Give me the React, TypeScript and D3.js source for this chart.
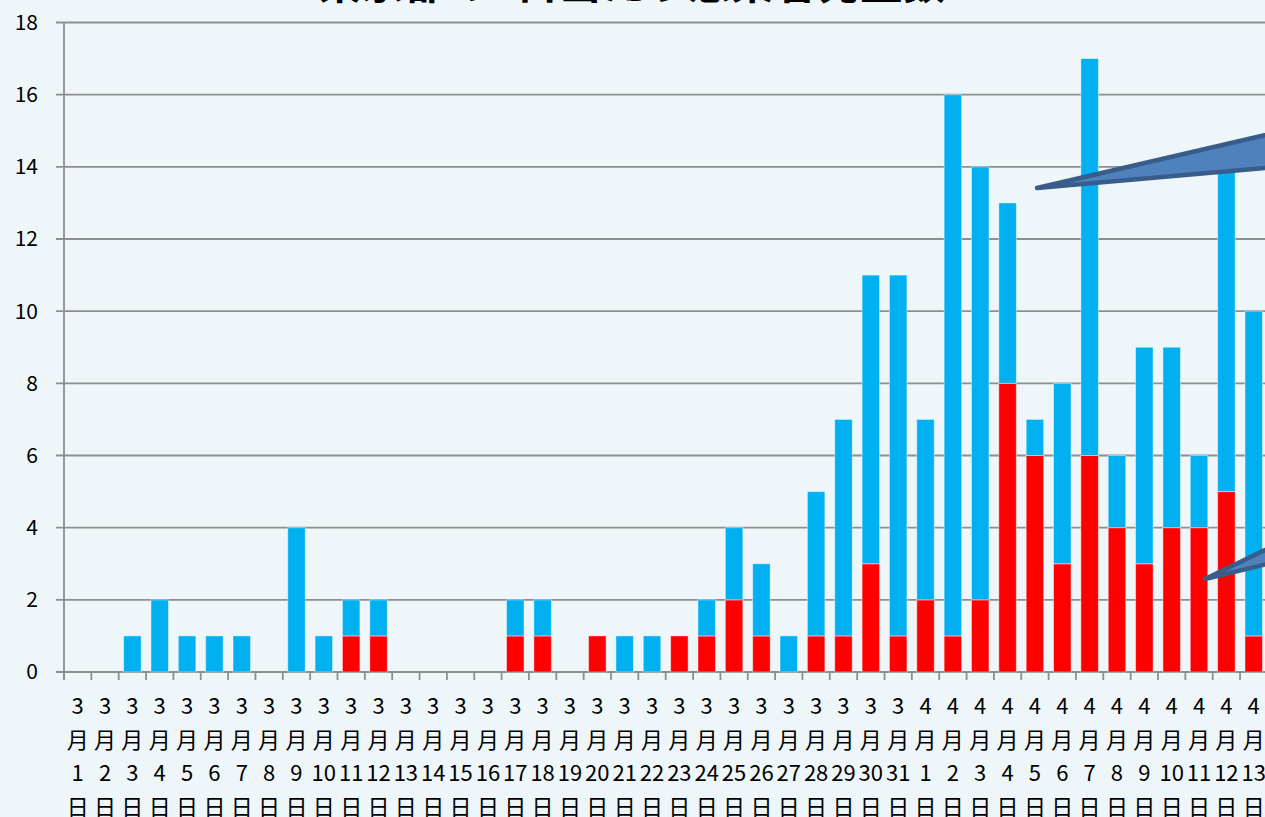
import * as d3 from "d3";
import { useEffect, useRef } from "react";

// categories: 3/1 .. 3/31, 4/1 .. 4/13
const months: number[] = [
  3, 3, 3, 3, 3, 3, 3, 3, 3, 3, 3, 3, 3, 3, 3, 3, 3, 3, 3, 3, 3, 3, 3, 3, 3, 3, 3, 3, 3, 3, 3,
  4, 4, 4, 4, 4, 4, 4, 4, 4, 4, 4, 4, 4,
];
const days: number[] = [
  1, 2, 3, 4, 5, 6, 7, 8, 9, 10, 11, 12, 13, 14, 15, 16, 17, 18, 19, 20, 21, 22, 23, 24, 25, 26,
  27, 28, 29, 30, 31, 1, 2, 3, 4, 5, 6, 7, 8, 9, 10, 11, 12, 13,
];

// red (lower) segment
const redValues: number[] = [
  0, 0, 0, 0, 0, 0, 0, 0, 0, 0, 1, 1, 0, 0, 0, 0, 1, 1, 0, 1, 0, 0, 1, 1, 2, 1, 0, 1, 1, 3, 1,
  2, 1, 2, 8, 6, 3, 6, 4, 3, 4, 4, 5, 1,
];
// blue (upper) segment
const blueValues: number[] = [
  0, 0, 1, 2, 1, 1, 1, 0, 4, 1, 1, 1, 0, 0, 0, 0, 1, 1, 0, 0, 1, 1, 0, 1, 2, 2, 1, 4, 6, 8, 10,
  5, 15, 12, 5, 1, 5, 11, 2, 6, 5, 2, 9, 9,
];

const yTicks = [0, 2, 4, 6, 8, 10, 12, 14, 16, 18];

const title = "東京都の1日当たり感染者発生数";

// callout pointer shapes (decoration, run off the right edge)
const callouts: [number, number][][] = [
  [
    [1037, 188],
    [1300, 127],
    [1300, 165],
  ],
  [
    [1205, 579],
    [1300, 533],
    [1300, 556],
  ],
];

export default function App() {
  const svgRef = useRef<SVGSVGElement>(null);

  useEffect(() => {
    if (!svgRef.current) return;
    document.body.style.margin = "0";

    const width = 1265;
    const height = 817;
    const left = 64;
    const step = 27.35;
    const top = 22.5;
    const bottom = 672;

    const svg = d3.select(svgRef.current);
    svg.selectAll("*").remove();

    svg
      .append("rect")
      .attr("width", width)
      .attr("height", height)
      .attr("fill", "#EEF6F9");

    const labels = months.map((m, i) => `${m}月${days[i]}日`);
    const data = labels.map((key, i) => ({ key, red: redValues[i], blue: blueValues[i] }));

    const x = d3
      .scaleBand<string>()
      .domain(labels)
      .range([left, left + labels.length * step])
      .paddingInner(0.36)
      .paddingOuter(0.18);

    const y = d3.scaleLinear().domain([0, 18]).range([bottom, top]);

    const font = "'Noto Sans CJK JP', 'Noto Sans', sans-serif";

    // grid lines
    svg
      .append("g")
      .selectAll("line")
      .data(yTicks)
      .enter()
      .append("line")
      .attr("x1", left - 8)
      .attr("x2", width)
      .attr("y1", (d) => y(d))
      .attr("y2", (d) => y(d))
      .attr("stroke", "#8e8e8e")
      .attr("stroke-width", 1.8);

    // y tick labels
    svg
      .append("g")
      .selectAll("text")
      .data(yTicks)
      .enter()
      .append("text")
      .attr("x", 38)
      .attr("y", (d) => y(d))
      .attr("dy", "0.35em")
      .attr("text-anchor", "end")
      .attr("font-family", font)
      .attr("font-size", 21)
      .attr("fill", "#000")
      .text((d) => d);

    // stacked bars
    const stack = d3.stack<{ key: string; red: number; blue: number }>().keys(["red", "blue"]);
    const series = stack(data);
    const colors: Record<string, string> = { red: "#FF0000", blue: "#00B0F0" };

    svg
      .append("g")
      .selectAll("g")
      .data(series)
      .enter()
      .append("g")
      .attr("fill", (s) => colors[s.key])
      .selectAll("rect")
      .data((s) => s.filter((d) => d[1] - d[0] > 0))
      .enter()
      .append("rect")
      .attr("x", (d) => x(d.data.key)!)
      .attr("width", x.bandwidth())
      .attr("y", (d) => y(d[1]))
      .attr("height", (d) => y(d[0]) - y(d[1]))
      .attr("stroke", "rgba(255,255,255,0.45)")
      .attr("stroke-width", 1);

    // axes lines
    svg
      .append("line")
      .attr("x1", left)
      .attr("x2", left)
      .attr("y1", top)
      .attr("y2", bottom + 8)
      .attr("stroke", "#8e8e8e")
      .attr("stroke-width", 1.8);

    svg
      .append("g")
      .selectAll("line")
      .data(d3.range(labels.length + 1))
      .enter()
      .append("line")
      .attr("x1", (i) => left + i * x.step())
      .attr("x2", (i) => left + i * x.step())
      .attr("y1", bottom)
      .attr("y2", bottom + 8)
      .attr("stroke", "#8e8e8e")
      .attr("stroke-width", 1.8);

    // x labels, stacked vertically
    const xl = svg
      .append("g")
      .selectAll("text")
      .data(data)
      .enter()
      .append("text")
      .attr("text-anchor", "middle")
      .attr("font-family", font)
      .attr("font-size", 22)
      .attr("fill", "#000");

    const lineYs = [706, 740, 773, 807];
    const parts = (i: number) => [`${months[i]}`, "月", `${days[i]}`, "日"];
    [0, 1, 2, 3].forEach((k) => {
      xl.append("tspan")
        .attr("x", (d) => x(d.key)! + x.bandwidth() / 2)
        .attr("y", lineYs[k])
        .attr("dy", "0.36em")
        .text((_, i) => parts(i)[k]);
    });

    // title (cut off at top)
    svg
      .append("text")
      .attr("x", 632)
      .attr("y", -1)
      .attr("text-anchor", "middle")
      .attr("font-family", font)
      .attr("font-weight", "bold")
      .attr("font-size", 43)
      .attr("fill", "#000")
      .text(title);

    // callout pointers
    svg
      .append("g")
      .selectAll("path")
      .data(callouts)
      .enter()
      .append("path")
      .attr("d", (pts) => d3.line()(pts) + "Z")
      .attr("fill", "#4F81BD")
      .attr("stroke", "#385D8A")
      .attr("stroke-width", 4.5)
      .attr("stroke-linejoin", "round");
  }, []);

  return (
    <svg
      ref={svgRef}
      width={1265}
      height={817}
      style={{ position: "absolute", left: 0, top: 0, display: "block" }}
    />
  );
}
